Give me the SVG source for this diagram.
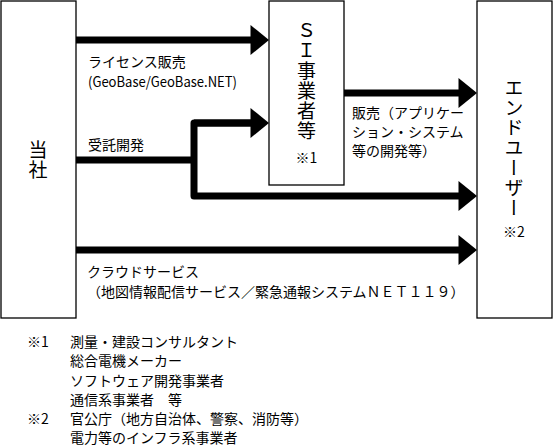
<svg xmlns="http://www.w3.org/2000/svg" width="553" height="447" viewBox="0 0 553 447">
<style>
.box{fill:#fff;stroke:#000;stroke-width:1.3}
.t{font-family:"Noto Sans CJK JP","Liberation Sans",sans-serif;font-size:14px;fill:#000}
.vt{font-family:"Noto Sans CJK JP","Liberation Sans",sans-serif;font-size:19px;fill:#000;writing-mode:vertical-rl;letter-spacing:1px}
.mid{text-anchor:middle}
.conn{fill:none;stroke:#000;stroke-width:7;stroke-linejoin:round}
</style>
<defs>
<marker id="ah" markerUnits="userSpaceOnUse" markerWidth="19" markerHeight="30" refX="0.5" refY="15" orient="auto" overflow="visible">
<path d="M0,0 L18.5,15 L0,30 Z" fill="#000"/>
</marker>
</defs>
<rect width="553" height="447" fill="#fff"/>

<g id="node-tosha">
<rect class="box" x="1" y="1" width="75" height="317"/>
<text class="vt" x="38" y="140.5">当社</text>
</g>

<g id="node-si">
<rect class="box" x="269" y="1" width="75" height="184"/>
<text class="vt" x="306.5" y="21">ＳＩ事業者等</text>
<text class="t mid" x="306.5" y="163">※1</text>
</g>

<g id="node-enduser">
<rect class="box" x="477" y="1" width="75" height="317"/>
<text class="vt" x="514" y="78.5">エンドユーザー</text>
<text class="t mid" x="514" y="236.5">※2</text>
</g>

<g id="connectors">
<path class="conn" d="M76,40 H251" marker-end="url(#ah)"/>
<path class="conn" d="M76,160 H194"/>
<path class="conn" d="M251,123 H194 V196 H459" marker-end="url(#ah)"/>
<path class="conn" d="M194,123 H251" marker-end="url(#ah)"/>
<path class="conn" d="M344,93 H459" marker-end="url(#ah)"/>
<path class="conn" d="M76,250 H459" marker-end="url(#ah)"/>
</g>

<g id="labels">
<text class="t" x="88" y="67">ライセンス販売</text>
<text class="t" x="88" y="87" textLength="149" lengthAdjust="spacingAndGlyphs">(GeoBase/GeoBase.NET)</text>
<text class="t" x="88" y="150">受託開発</text>
<text class="t" x="352" y="117.5">販売（アプリケー</text>
<text class="t" x="352" y="136.5">ション・システム</text>
<text class="t" x="352" y="155.5">等の開発等）</text>
<text class="t" x="87" y="277">クラウドサービス</text>
<text class="t" x="87" y="297">（地図情報配信サービス／緊急通報システムＮＥＴ１１９）</text>
</g>

<g id="notes">
<text class="t" x="27" y="347">※1</text>
<text class="t" x="70" y="347">測量・建設コンサルタント</text>
<text class="t" x="70" y="366.3">総合電機メーカー</text>
<text class="t" x="70" y="385.5">ソフトウェア開発事業者</text>
<text class="t" x="70" y="404.8">通信系事業者　等</text>
<text class="t" x="27" y="424">※2</text>
<text class="t" x="70" y="424">官公庁（地方自治体、警察、消防等）</text>
<text class="t" x="70" y="443.3">電力等のインフラ系事業者</text>
</g>
</svg>
